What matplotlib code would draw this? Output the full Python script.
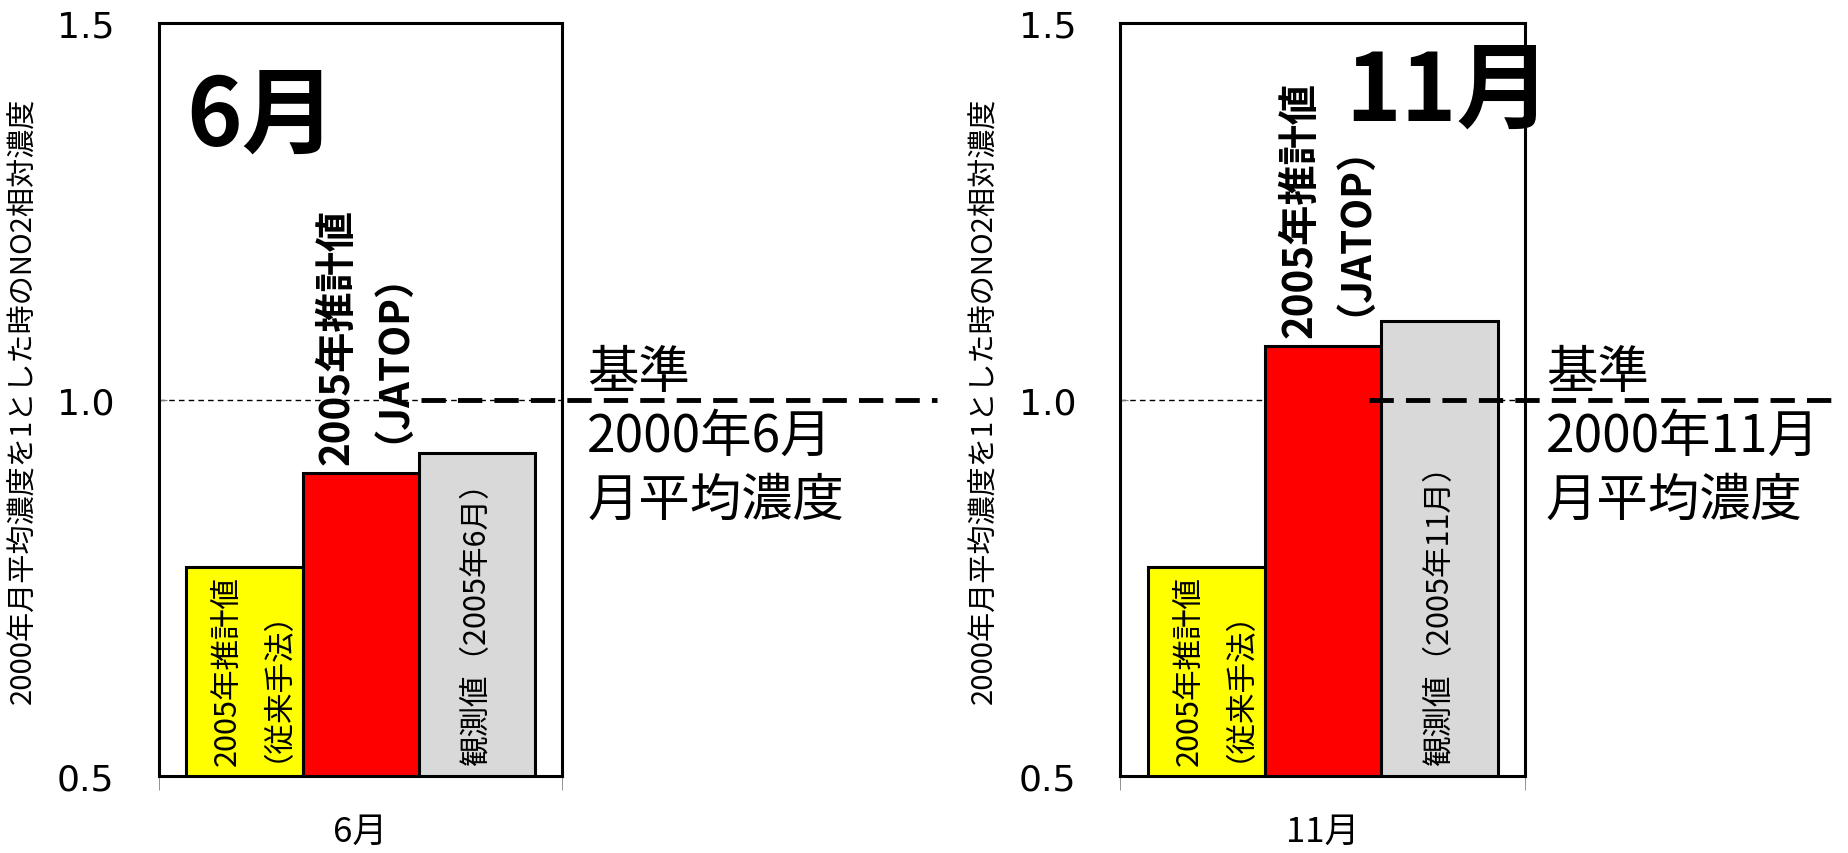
import matplotlib
matplotlib.use('Agg')
import matplotlib.pyplot as plt
import numpy as np

plt.rcParams['font.family'] = ['Noto Sans CJK JP', 'DejaVu Sans']

# data
months = ['6月', '11月']
conventional = [0.777, 0.777]   # 2005年推計値（従来手法）
jatop = [0.902, 1.071]          # 2005年推計値（JATOP）
observed = [0.929, 1.104]       # 観測値
baseline = 1.0
y_ticks = [0.5, 1.0, 1.5]
bar_labels = ['2005年推計値\n（従来手法）', '2005年推計値\n（JATOP）', '観測値（2005年{}）']
ref_labels = ['基準\n2000年6月\n月平均濃度', '基準\n2000年11月\n月平均濃度']
ylabel = '2000年月平均濃度を1とした時のNO2相対濃度'
colors = ['#FFFF00', '#FF0000', '#D9D9D9']

# layout per panel
rects = [[0.086, 0.09, 0.218, 0.882], [0.606, 0.09, 0.219, 0.882]]
thick_span = [(0.15, 1.43), (0.113, 1.27)]
ref_x = [0.562, 0.55]
big_pos = [(0.068, 0.875), (0.555, 0.909)]
narrow = ['Liberation Sans Narrow', 'DejaVu Sans']

fig = plt.figure(figsize=(18.49, 8.54), dpi=100)
w = 0.288
xs = [-w, 0, w]

for i, month in enumerate(months):
	ax = fig.add_axes(rects[i])
	vals = [conventional[i], jatop[i], observed[i]]
	ax.bar(xs, vals, width=w, color=colors, edgecolor='black', linewidth=2.2, zorder=2)
	ax.set_xlim(-0.5, 0.5)
	ax.set_ylim(0.5, 1.5)

	# reference line: thin behind bars, thick over them
	ax.axhline(baseline, color='black', lw=1.0, ls=(0, (4, 3)), zorder=1)
	ax.plot(thick_span[i], [baseline, baseline], color='black', lw=3.5,
		ls=(0, (5, 2.5)), clip_on=False, zorder=4)
	ax.text(ref_x[i], 0.951, ref_labels[i], fontsize=37, va='center', ha='left',
		linespacing=1.25, clip_on=False)

	# labels on bars
	ax.text(xs[0], 0.515, bar_labels[0], rotation=90, ha='center', va='bottom',
		fontsize=22, multialignment='center', linespacing=1.15, zorder=3)
	ax.text(xs[1] - 0.015, jatop[i] + 0.012, bar_labels[1], rotation=90, ha='center', va='bottom',
		fontsize=29, fontweight='bold', multialignment='center', linespacing=0.78, zorder=3)
	ax.text(xs[2], 0.515, bar_labels[2].format(month), rotation=90, ha='center', va='bottom',
		fontsize=22, zorder=3)

	# big month label
	ax.text(big_pos[i][0], big_pos[i][1], month, transform=ax.transAxes, fontsize=68,
		fontweight='bold', ha='left', va='center', zorder=2)

	for s in ax.spines.values():
		s.set_color('black')
		s.set_linewidth(2.2)
		s.set_zorder(5)

	ax.set_yticks(y_ticks, labels=['%.1f' % v for v in y_ticks], fontfamily=narrow, fontsize=26)
	ax.tick_params(axis='y', direction='in', length=6, color='gray', pad=32)
	ax.set_xticks([0], labels=[month], fontsize=25)
	ax.tick_params(axis='x', length=0, pad=27)
	ax.set_xticks([-0.5, 0.5], minor=True)
	ax.tick_params(axis='x', which='minor', length=10, color='gray', direction='out')

	ax.set_ylabel(ylabel, fontsize=21)
	ax.yaxis.set_label_coords(-0.30, 0.5)

fig.savefig('out.png', dpi=100)
